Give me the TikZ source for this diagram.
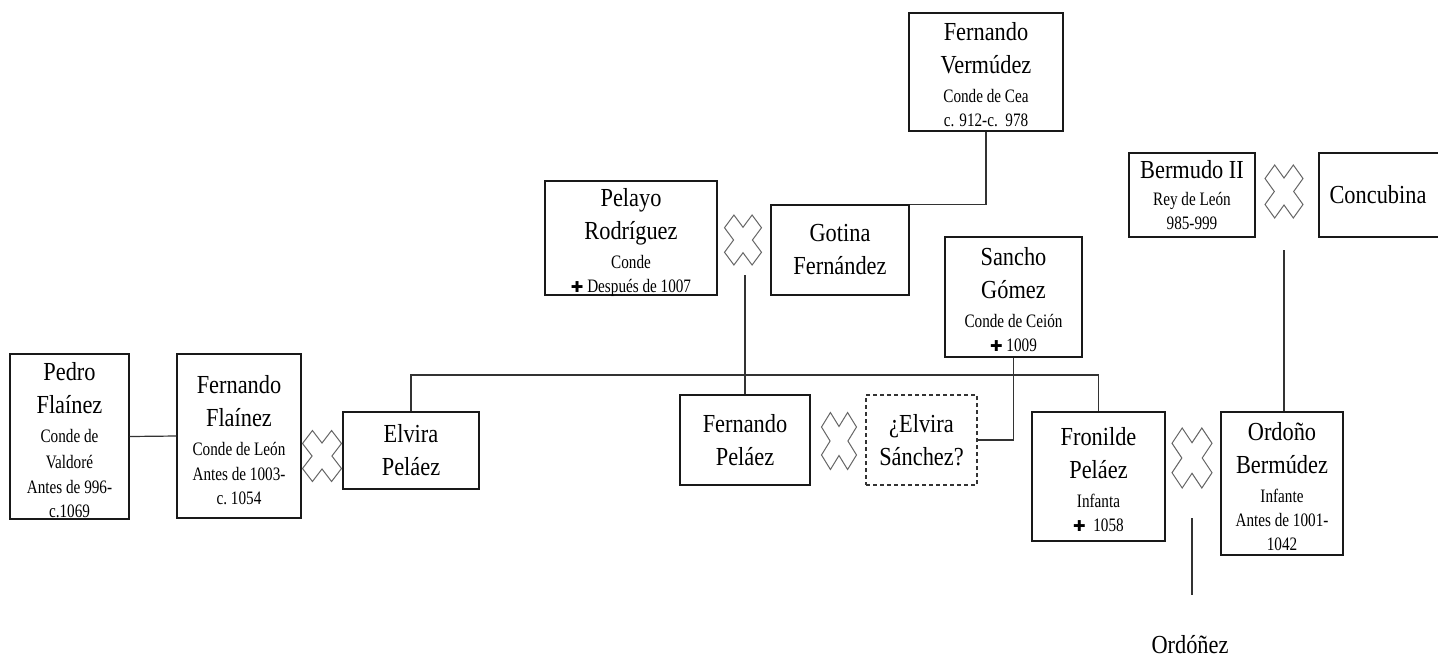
\documentclass[tikz,border=0pt]{standalone}
\usepackage{fontspec}
\newfontfamily\namefont[FakeStretch=0.86]{Liberation Serif}
\newfontfamily\infofont[FakeStretch=0.8]{Liberation Serif}
\newfontfamily\symfont{DejaVu Sans}
\newcommand\info[1]{{\infofont\fontsize{19}{24}\selectfont #1}}
\newcommand\obit{{\symfont\fontsize{15}{15}\selectfont ✚}}

\tikzset{
  box/.style={draw=black!90, line width=1.2pt, rectangle, inner sep=0pt, fill=white},
  uncertain/.style={box, dashed, dash pattern=on 4pt off 3pt, draw=black!80},
  names/.style={align=center, inner sep=0pt, font=\namefont\fontsize{26}{33}\selectfont},
  link/.style={draw=black!80, line width=1.2pt},
  wedline/.style={draw=black!60, fill=white, line width=1pt},
  wedding/.pic={
    \draw[wedline] [rotate=45]
      (0.36,0.36) -- (1.054,0.36) -- (1.054,-0.36) -- (0.36,-0.36) --
      (0.36,-1.054) -- (-0.36,-1.054) -- (-0.36,-0.36) -- (-1.054,-0.36) --
      (-1.054,0.36) -- (-0.36,0.36) -- (-0.36,1.054) -- (0.36,1.054) -- cycle;
  }
}

\begin{document}
\begin{tikzpicture}[x=1pt,y=-1pt]
\fill[white] (0,0) rectangle (1438,657);
\useasboundingbox (0,0) rectangle (1438,657);

% people: a framed box, its text set as a centred label
\node[box, minimum width=154pt, minimum height=118pt,
  label={[names, name=FVt, yshift=-3pt]center:{Fernando\\Vermúdez\\[-4pt]\info{Conde de Cea}\\[-9pt]\info{c. 912-c.\ \ 978}}}]
  (FV) at (986,72) {};
\node[box, minimum width=172pt, minimum height=114pt,
  label={[names, name=PRt, yshift=-4pt]center:{Pelayo\\Rodríguez\\[-4pt]\info{Conde}\\[-9pt]\info{\obit\ Después de 1007}}}]
  (PR) at (631,238) {};
\node[box, minimum width=138pt, minimum height=90pt,
  label={[names, name=GFt]center:{Gotina\\Fernández}}]
  (GF) at (840,250) {};
\node[box, minimum width=126pt, minimum height=84pt,
  label={[names, name=B2t]center:{Bermudo II\\[-6pt]\info{Rey de León}\\[-9pt]\info{985-999}}}]
  (B2) at (1192,195) {};
\node[box, minimum width=130pt, minimum height=84pt,
  label={[names, name=COt, xshift=-6pt]center:{Concubina}}]
  (CO) at (1384,195) {};
\node[box, minimum width=137pt, minimum height=120pt,
  label={[names, name=SGt, yshift=-3pt]center:{Sancho\\Gómez\\[-4pt]\info{Conde de Ceión}\\[-9pt]\info{\obit\ 1009}}}]
  (SG) at (1013.5,297) {};
\node[box, minimum width=119pt, minimum height=165pt,
  label={[names, name=PFt, yshift=-4pt]center:{Pedro\\Flaínez\\[-4pt]\info{Conde de}\\[-7pt]\info{Valdoré}\\[-8pt]\info{Antes de 996-}\\[-9pt]\info{c.1069}}}]
  (PF) at (69.5,436.5) {};
\node[box, minimum width=124pt, minimum height=164pt,
  label={[names, name=FFt, yshift=-4pt]center:{Fernando\\Flaínez\\[-4pt]\info{Conde de León}\\[-8pt]\info{Antes de 1003-}\\[-9pt]\info{c.\ 1054}}}]
  (FF) at (239,436) {};
\node[box, minimum width=136pt, minimum height=77pt,
  label={[names, name=EPt]center:{Elvira\\Peláez}}]
  (EP) at (411,450.5) {};
\node[box, minimum width=130pt, minimum height=90pt,
  label={[names, name=FPt]center:{Fernando\\Peláez}}]
  (FP) at (745,440) {};
\node[uncertain, minimum width=111pt, minimum height=90pt,
  label={[names, name=ESt]center:{¿Elvira\\Sánchez?}}]
  (ES) at (921.5,440) {};
\node[box, minimum width=133pt, minimum height=129pt,
  label={[names, name=FRt, yshift=-3pt]center:{Fronilde\\Peláez\\[-4pt]\info{Infanta}\\[-9pt]\info{\obit\ \ 1058}}}]
  (FR) at (1098.5,476.5) {};
\node[box, minimum width=122pt, minimum height=143pt,
  label={[names, name=OBt, yshift=-3pt]center:{Ordoño\\Bermúdez\\[-4pt]\info{Infante}\\[-9pt]\info{Antes de 1001-}\\[-9pt]\info{1042}}}]
  (OB) at (1282,483.5) {};
\node[names, anchor=base] (ORD) at (1190,653) {Ordóñez};

% marriages
\pic[xscale=18.5, yscale=25] (w1) at (743,240) {wedding};
\pic[xscale=19.5, yscale=25.5] (w2) at (322,456) {wedding};
\pic[xscale=17.5, yscale=28.5] (w3) at (839,441) {wedding};
\pic[xscale=20, yscale=30] (w4) at (1192,458) {wedding};
\pic[xscale=19, yscale=26.5] (w5) at (1284,191.5) {wedding};

% descent lines
\coordinate (m1) at (745,275);
\coordinate (sib) at (745,375);
\coordinate (m5) at (1284,250);
\coordinate (m4) at (1192,518);
\coordinate (m4end) at (1192,595);

\draw[link] (FV.south) |- (GF.north east);
\draw[link] (m1) -- (m1 |- FP.north);
\draw[link] (EP.north) |- (sib) -| (FR.north);
\draw[link] (SG.south) |- (ES.east);
\draw[link] (PF.east) -- (FF.west);
\draw[link] (m5) -- (m5 |- OB.north);
\draw[link] (m4) -- (m4end);
\end{tikzpicture}
\end{document}
